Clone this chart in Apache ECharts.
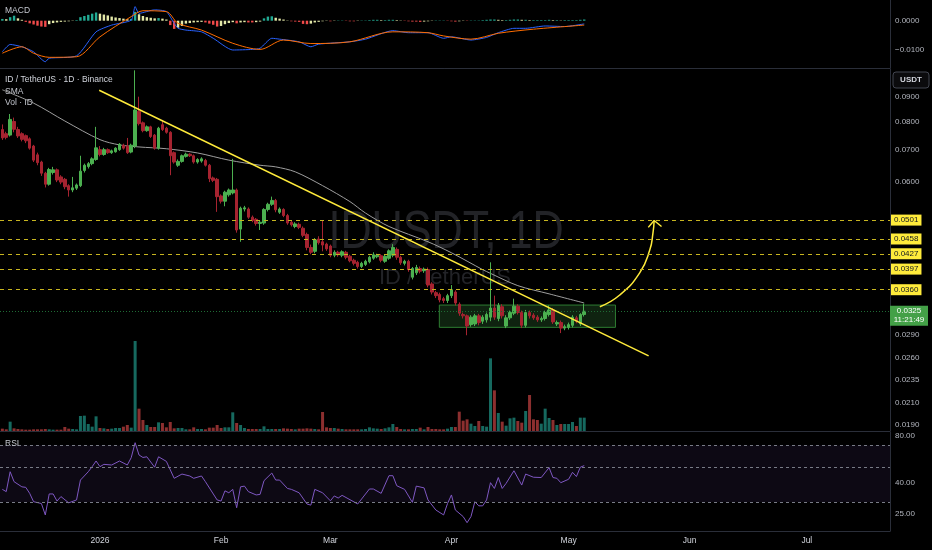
<!DOCTYPE html>
<html><head><meta charset="utf-8">
<script src="https://cdn.jsdelivr.net/npm/echarts@6/dist/echarts.min.js"></script>
<style>html,body{margin:0;padding:0;background:#000;}#c{width:932px;height:550px;}</style>
</head><body><div id="c"></div>
<script>
// ---------- data ----------
const firstDate = '2025-12-07';
// [open, close, low, high] per daily candle
const candles = [
[.0770,.0740,.0733,.0789],[.0755,.0742,.0735,.0762],[.0750,.0808,.0745,.0829],[.0800,.0771,.0760,.0815],
[.0770,.0747,.0740,.0780],[.0755,.0735,.0728,.0760],[.0748,.0730,.0722,.0752],[.0737,.0705,.0700,.0742],
[.0712,.0666,.0660,.0716],[.0683,.0658,.0650,.0690],[.0660,.0626,.0618,.0664],[.0626,.0594,.0585,.0630],
[.0594,.0637,.0590,.0642],[.0628,.0636,.0622,.0645],[.0636,.0606,.0600,.0640],[.0615,.0600,.0594,.0620],
[.0608,.0587,.0580,.0612],[.0590,.0578,.0560,.0594],[.0578,.0584,.0572,.0615],[.0583,.0592,.0578,.0596],
[.0590,.0632,.0586,.0680],[.0634,.0650,.0628,.0655],[.0646,.0655,.0640,.0660],[.0655,.0670,.0650,.0675],
[.0668,.0706,.0664,.0780],[.0700,.0684,.0678,.0712],[.0684,.0700,.0680,.0706],[.0700,.0690,.0686,.0704],
[.0690,.0696,.0686,.0700],[.0693,.0705,.0690,.0708],[.0700,.0718,.0696,.0722],[.0715,.0705,.0700,.0720],
[.0712,.0690,.0686,.0740],[.0692,.0715,.0688,.0720],[.0712,.0845,.0705,.1020],[.0840,.0792,.0785,.0900],
[.0795,.0766,.0760,.0800],[.0766,.0780,.0762,.0785],[.0780,.0745,.0740,.0784],[.0750,.0705,.0700,.0754],
[.0705,.0775,.0700,.0780],[.0788,.0770,.0765,.0806],[.0775,.0760,.0755,.0780],[.0760,.0680,.0620,.0764],
[.0690,.0660,.0655,.0694],[.0650,.0662,.0645,.0668],[.0662,.0680,.0658,.0684],[.0678,.0685,.0674,.0690],
[.0685,.0680,.0676,.0688],[.0680,.0660,.0655,.0684],[.0660,.0668,.0655,.0672],[.0663,.0670,.0658,.0675],
[.0665,.0650,.0646,.0670],[.0650,.0610,.0600,.0654],[.0612,.0605,.0600,.0616],[.0608,.0560,.0521,.0612],
[.0562,.0548,.0542,.0566],[.0548,.0572,.0535,.0576],[.0565,.0578,.0560,.0582],[.0570,.0578,.0566,.0670],
[.0578,.0478,.0472,.0582],[.0480,.0530,.0452,.0534],[.0528,.0531,.0522,.0536],[.0528,.0508,.0504,.0532],
[.0508,.0500,.0496,.0512],[.0503,.0493,.0488,.0506],[.0493,.0496,.0478,.0500],[.0494,.0527,.0490,.0530],
[.0527,.0540,.0522,.0544],[.0540,.0550,.0536,.0560],[.0550,.0526,.0520,.0554],[.0520,.0528,.0516,.0532],
[.0527,.0512,.0508,.0530],[.0512,.0494,.0490,.0516],[.0496,.0490,.0486,.0500],[.0486,.0492,.0482,.0496],
[.0491,.0484,.0480,.0495],[.0482,.0466,.0462,.0486],[.0468,.0440,.0434,.0472],[.0440,.0430,.0426,.0446],
[.0432,.0456,.0428,.0460],[.0458,.0450,.0446,.0464],[.0452,.0445,.0432,.0501],[.0447,.0437,.0433,.0450],
[.0443,.0424,.0420,.0446],[.0424,.0430,.0420,.0434],[.0430,.0425,.0421,.0433],[.0424,.0431,.0420,.0434],
[.0430,.0420,.0416,.0433],[.0422,.0413,.0410,.0425],[.0414,.0408,.0404,.0417],[.0410,.0402,.0398,.0413],
[.0402,.0408,.0399,.0411],[.0406,.0412,.0403,.0415],[.0411,.0420,.0408,.0423],[.0418,.0425,.0415,.0430],
[.0421,.0424,.0418,.0427],[.0423,.0414,.0410,.0426],[.0412,.0422,.0409,.0425],[.0418,.0433,.0415,.0436],
[.0424,.0440,.0420,.0447],[.0436,.0420,.0415,.0440],[.0420,.0409,.0405,.0423],[.0408,.0412,.0404,.0415],
[.0412,.0396,.0392,.0415],[.0382,.0398,.0378,.0401],[.0390,.0400,.0386,.0405],[.0398,.0393,.0389,.0402],
[.0394,.0397,.0390,.0400],[.0396,.0368,.0364,.0400],[.0370,.0356,.0352,.0373],[.0355,.0350,.0346,.0358],
[.0352,.0343,.0339,.0355],[.0345,.0342,.0338,.0348],[.0342,.0350,.0338,.0353],[.0350,.0360,.0346,.0368],
[.0356,.0338,.0334,.0359],[.0336,.0322,.0318,.0339],[.0320,.0318,.0314,.0323],[.0318,.0303,.0290,.0320],
[.0305,.0316,.0302,.0319],[.0306,.0318,.0303,.0321],[.0318,.0308,.0304,.0321],[.0310,.0316,.0306,.0319],
[.0312,.0320,.0308,.0323],[.0316,.0330,.0310,.0410],[.0330,.0316,.0312,.0350],[.0314,.0334,.0310,.0338],
[.0332,.0318,.0314,.0336],[.0303,.0315,.0300,.0319],[.0315,.0323,.0312,.0326],[.0322,.0333,.0319,.0345],
[.0333,.0323,.0320,.0336],[.0323,.0304,.0300,.0326],[.0304,.0323,.0301,.0327],[.0323,.0318,.0314,.0326],
[.0319,.0315,.0312,.0322],[.0316,.0312,.0309,.0319],[.0312,.0314,.0309,.0317],[.0314,.0323,.0311,.0326],
[.0320,.0327,.0317,.0334],[.0327,.0309,.0306,.0330],[.0306,.0308,.0303,.0311],[.0308,.0300,.0293,.0311],
[.0300,.0302,.0297,.0305],[.0301,.0305,.0298,.0308],[.0304,.0316,.0301,.0319],[.0315,.0310,.0307,.0318],
[.0306,.0320,.0303,.0322],[.0320,.0325,.0317,.0337]
];
const volumes = [
7,5,28,8,6,5,4,4,5,5, 5,6,5,4,4,4,12,7,6,5, 45,46,21,13,44,9,8,6,7,9, 9,13,18,10,270,67,33,18,12,12,
26,24,11,27,8,9,9,5,5,11, 6,6,5,10,10,18,9,11,11,56, 24,18,9,6,6,6,6,14,6,6, 6,6,8,7,6,5,7,7,8,7,
6,5,57,11,9,9,7,6,5,5, 5,5,5,6,11,8,7,6,8,11, 21,12,6,5,5,6,6,10,5,12, 6,6,5,5,7,12,12,58,31,35,
22,15,30,15,13,218,122,54,28,16, 38,40,30,25,60,108,35,33,22,67, 39,33,18,21,21,21,27,15,40,40
];
const macdHist = [
.0006,.0005,.0012,.0017,.0008,.0003,-.0004,-.0009,-.0013,-.0017, -.0020,-.0021,-.0012,-.0008,-.0006,-.0004,-.0003,-.0002,-.0001,.0002,
.0012,.0016,.0020,.0024,.0028,.0024,.0021,.0018,.0014,.0011, .0009,.0007,.0005,.0006,.0030,.0022,.0016,.0012,.0010,.0008,
.0009,.0007,.0004,-.0015,-.0028,-.0024,-.0018,-.0010,-.0008,-.0006, -.0005,-.0004,-.0006,-.0010,-.0014,-.0020,-.0018,-.0012,-.0008,-.0005,
-.0009,-.0006,-.0005,-.0006,-.0006,-.0005,-.0003,.0008,.0014,.0015, .0010,.0007,.0004,.0001,-.0002,-.0003,-.0004,-.0011,-.0012,-.0010,
-.0006,-.0004,-.0002,-.0001,-.0002,-.0001,.0001,.0001,-.0001,-.0002, -.0002,-.0001,.0001,.0001,.0002,.0003,.0003,.0002,.0002,.0003,
.0003,.0002,.0001,-.0001,-.0002,-.0003,-.0003,-.0004,-.0003,-.0002, -.0001,.0001,.0001,.0001,-.0001,-.0002,-.0003,-.0002,-.0001,-.0001,
.0001,.0001,.0001,.0002,.0003,.0004,.0004,.0003,.0002,.0002, .0003,.0004,.0004,.0003,.0003,.0002,.0002,.0002,.0002,.0002,
.0003,.0002,.0002,.0001,.0002,.0002,.0002,.0002,.0003,.0004
];
// [day offset from 2026-01-01, value]
const macdLine = [[-25,-.0106],[-23,-.0081],[-20,-.0089],[-17,-.0106],[-14,-.0140],[-13,-.0128],[-6,-.0120],[-1,-.0038],
[3,-.0015],[8,.0002],[9,.0048],[10,.0025],[14,.0037],[17,.0031],[19,-.0009],[20,-.0026],[22,-.0032],[26,-.0038],[29,-.0060],
[34,-.0100],[39,-.0098],[41,-.0094],[44,-.0060],[46,-.0063],[51,-.0072],[54,-.0089],[56,-.0080],[64,-.0072],[68,-.0063],
[75,-.0034],[79,-.0041],[84,-.0041],[88,-.0060],[90,-.0055],[95,-.0066],[99,-.0057],[102,-.0041],[106,-.0026],[109,-.0026],
[114,-.0018],[119,-.0020],[124,-.0011]];
const signalLine = [[-25,-.0111],[-20,-.0089],[-17,-.0111],[-13,-.0125],[-6,-.0123],[0,-.0055],[8,.0014],[11,.0034],[17,.0031],
[20,-.0009],[26,-.0032],[34,-.0077],[41,-.0098],[47,-.0066],[54,-.0078],[64,-.0072],[75,-.0038],[84,-.0041],[88,-.0052],
[95,-.0063],[102,-.0043],[111,-.0029],[124,-.0015]];
const smaLine = [[-25,.0930],[-17,.0873],[-9,.0802],[0,.0734],[5,.0716],[10,.0709],[17,.0703],[25,.0689],[33,.0666],[41,.0650],
[45,.0645],[50,.0630],[57,.0590],[64,.0547],[68,.0518],[74,.0486],[84,.0452],[90,.0429],[98,.0396],[100,.0389],[107,.0367],
[115,.0353],[124,.0338]];
const rsiLine = [[-25,36.2],[-24,35.0],[-23,47.1],[-22,40.6],[-20,37.6],[-19,37.3],[-18,34.1],[-17,30.1],[-15,29.3],[-14,24.7],
[-13,33.8],[-12,33.8],[-11,30.4],[-10,32.5],[-8,29.6],[-6,30.9],[-5,41.6],[-3,47.1],[-2,50.8],[-1,55.3],[0,50.8],[1,52.6],
[3,52.1],[5,55.3],[7,52.1],[8,58.1],[9,72.7],[10,60.5],[11,58.3],[12,58.9],[14,50.4],[15,58.9],[17,55.0],[19,42.7],[21,45.5],
[23,44.2],[24,42.7],[26,44.2],[27,40.6],[30,30.9],[31,30.4],[32,35.4],[33,34.4],[34,36.2],[35,27.5],[36,37.6],[37,38.0],
[38,35.0],[40,33.3],[41,33.6],[42,41.2],[44,46.2],[45,41.6],[46,41.6],[48,36.7],[49,36.2],[51,34.4],[53,29.1],[54,28.6],
[55,36.2],[57,34.4],[59,30.5],[60,32.8],[61,31.8],[62,33.1],[66,29.1],[69,36.4],[70,36.4],[72,34.1],[74,44.4],[75,44.4],
[76,38.2],[78,36.2],[80,29.8],[81,38.0],[83,37.0],[84,30.9],[86,26.6],[88,24.7],[89,29.3],[90,33.3],[91,26.6],[93,24.1],
[94,22.0],[95,24.1],[96,30.1],[97,28.3],[98,28.3],[99,30.9],[100,40.0],[101,36.7],[102,43.2],[103,36.7],[104,39.6],[106,47.8],
[108,38.6],[109,45.5],[111,43.4],[113,43.2],[115,50.1],[116,43.2],[117,42.7],[118,40.0],[120,42.1],[121,46.7],[122,43.8],
[123,50.4],[124,51.6]];
const levels = [0.0501, 0.0458, 0.0427, 0.0397, 0.0360];
const lastPrice = 0.0325;
const countdown = '11:21:49';
const trendLine = [[-0.2, 0.0928], [140.5, 0.0263]];
const rangeBox = [[86.9, 0.03347], [132.0, 0.03011]];
const arrowCurve = [[128.0,0.0332],[133.1,0.0351],[138.2,0.0390],[140.8,0.0435],[141.6,0.0471],[141.9,0.0499]];
const arrowHead = [[140.4,0.0484],[141.9,0.0500],[143.8,0.0486]];
const priceTicks = [0.09, 0.08, 0.07, 0.06, 0.029, 0.026, 0.0235, 0.021, 0.019];
const macdTicks = [0, -0.01];
const rsiTicks = [80, 40, 25];
const rsiBands = [70, 50, 30];
const monthTicks = [['2026-01-01','2026'],['2026-02-01','Feb'],['2026-03-01','Mar'],['2026-04-01','Apr'],
  ['2026-05-01','May'],['2026-06-01','Jun'],['2026-07-01','Jul']];

// ---------- chart ----------
const DAY = 864e5, ORIGIN = Date.parse('2026-01-01');
const dayOf = s => (Date.parse(s) - ORIGIN) / DAY;
const x0 = dayOf(firstDate);
const XMIN = -25.6, XMAX = 202.3;
const FONT = '"Liberation Sans", Arial, sans-serif';
const AX = '#2a2e39', TXT = '#b2b5be';
const UP = '#4cb050', DN = '#a62330';

const candleData = candles.map((c, i) => [x0 + i, c[0], c[1], c[2], c[3]]);
const volData = volumes.map((v, i) => ({ value: [x0 + i, v],
  itemStyle: { color: candles[i][1] >= candles[i][0] ? '#16695f' : '#8c2f2f' } }));
const histData = macdHist.map((h, i) => {
  const prev = i ? macdHist[i - 1] : 0;
  let col;
  if (h >= 0) col = h >= prev ? '#22ab94' : '#e3e8a8';
  else col = h <= prev ? '#f04a4a' : '#e3e8a8';
  return { value: [x0 + i, h], itemStyle: { color: col } };
});

function xAxis(i, labels) {
  return {
    type: 'value', gridIndex: i, min: XMIN, max: XMAX,
    splitLine: { show: false }, axisTick: { show: false },
    axisLine: { show: i !== 2, onZero: false, lineStyle: { color: AX } },
    axisLabel: labels ? {
      customValues: monthTicks.map(m => dayOf(m[0])),
      formatter: v => { const m = monthTicks.find(t => Math.abs(dayOf(t[0]) - v) < 0.5); return m ? m[1] : ''; },
      color: '#d1d4dc', fontSize: 8.5, fontFamily: FONT, margin: 5
    } : { show: false }
  };
}
function yAxis(i, extra) {
  return Object.assign({
    gridIndex: i, position: 'right', splitLine: { show: false }, axisTick: { show: false },
    axisLine: { show: true, onZero: false, lineStyle: { color: AX } }
  }, extra);
}
const lab = (vals, fmt) => ({ customValues: vals, formatter: fmt, color: TXT, fontSize: 8, fontFamily: FONT, margin: 5 });

const levelLines = levels.map(v => [
  { coord: [XMIN, v], lineStyle: { color: '#c7b520', type: [4, 4], width: 1 },
    label: { show: true, position: 'end', distance: 1, formatter: v.toFixed(4),
      backgroundColor: '#ffeb3b', color: '#131722', fontSize: 8, lineHeight: 9, padding: [1, 3, 1, 3], fontFamily: FONT } },
  { coord: [XMAX, v] }
]);

const option = {
  backgroundColor: '#000',
  animation: false,
  grid: [
    { left: 0, right: 42, top: 0, height: 68 },
    { left: 0, right: 42, top: 69, height: 362 },
    { left: 0, right: 42, top: 341, height: 90 },
    { left: 0, right: 42, top: 432, height: 99 }
  ],
  xAxis: [xAxis(0, false), xAxis(1, false), xAxis(2, false), xAxis(3, true)],
  yAxis: [
    yAxis(0, { type: 'value', min: -0.01614, max: 0.00706,
      axisLabel: lab(macdTicks, v => (v < 0 ? '\u2212' : '') + Math.abs(v).toFixed(4)) }),
    yAxis(1, { type: 'log', logBase: 10, min: 0.018407, max: 0.10265,
      axisLabel: lab(priceTicks, v => v.toFixed(4)) }),
    yAxis(2, { type: 'value', min: 0, max: 270, show: false, axisLine: { show: false, onZero: false } }),
    yAxis(3, { type: 'log', logBase: 10, min: 19.43, max: 85.3,
      axisLabel: lab(rsiTicks, v => v.toFixed(2)) })
  ],
  graphic: [
    { type: 'text', x: 446, y: 233, scaleX: 0.9, scaleY: 1.12, z: 0, silent: true,
      style: { text: 'IDUSDT, 1D', fill: '#222327', font: '48px ' + FONT, align: 'center', verticalAlign: 'middle' } },
    { type: 'text', x: 445, y: 278, z: 0, silent: true,
      style: { text: 'ID / TetherUS', fill: '#222327', font: '22px ' + FONT, align: 'center', verticalAlign: 'middle' } },
    { type: 'text', x: 5, y: 11, style: { text: 'MACD', fill: '#c3c6ce', font: '8.5px ' + FONT, verticalAlign: 'middle' } },
    { type: 'text', x: 5, y: 80, style: { text: 'ID / TetherUS \u00b7 1D \u00b7 Binance', fill: '#d1d4dc', font: '8.5px ' + FONT, verticalAlign: 'middle' } },
    { type: 'text', x: 5, y: 91.5, style: { text: 'SMA', fill: '#c3c6ce', font: '8.5px ' + FONT, verticalAlign: 'middle' } },
    { type: 'text', x: 5, y: 102.5, style: { text: 'Vol \u00b7 ID', fill: '#c3c6ce', font: '8.5px ' + FONT, verticalAlign: 'middle' } },
    { type: 'text', x: 5, y: 443.5, z: 10, style: { text: 'RSI', fill: '#c3c6ce', font: '8.5px ' + FONT, verticalAlign: 'middle' } },
    { type: 'rect', shape: { x: 893, y: 72, width: 36, height: 16, r: 3 }, style: { fill: '#0b0b0d', stroke: '#434651', lineWidth: 1 } },
    { type: 'text', x: 911, y: 80, style: { text: 'USDT', fill: '#d1d4dc', font: 'bold 8px ' + FONT, align: 'center', verticalAlign: 'middle' } }
  ],
  series: [
    { type: 'bar', name: 'hist', xAxisIndex: 0, yAxisIndex: 0, barWidth: 2.4, data: histData, silent: true },
    { type: 'line', name: 'MACD', xAxisIndex: 0, yAxisIndex: 0, data: macdLine, symbol: 'none', smooth: 0.2,
      lineStyle: { color: '#2962ff', width: 1 }, silent: true },
    { type: 'line', name: 'Signal', xAxisIndex: 0, yAxisIndex: 0, data: signalLine, symbol: 'none', smooth: 0.3,
      lineStyle: { color: '#ff6d00', width: 1 }, silent: true },
    { type: 'bar', name: 'Vol', xAxisIndex: 2, yAxisIndex: 2, barWidth: 3, data: volData, silent: true },
    {
      type: 'candlestick', name: 'ID/USDT', xAxisIndex: 1, yAxisIndex: 1, barWidth: 3, silent: true,
      encode: { x: 0, y: [1, 2, 3, 4] },
      data: candleData,
      itemStyle: { color: UP, color0: DN, borderColor: UP, borderColor0: DN, borderWidth: 1 },
      markArea: {
        silent: true,
        itemStyle: { color: 'rgba(76,175,80,0.2)', borderColor: '#2e7d32', borderWidth: 1 },
        data: [[{ coord: rangeBox[0] }, { coord: rangeBox[1] }]]
      },
      markLine: {
        silent: true, symbol: ['none', 'none'], animation: false,
        data: levelLines.concat([
          [{ coord: [XMIN, lastPrice], lineStyle: { color: '#1f6b35', type: [1, 2], width: 1 }, label: { show: false } },
           { coord: [XMAX, lastPrice] }],
          [{ coord: trendLine[0], lineStyle: { color: '#ffeb3b', width: 1.5, type: 'solid' }, label: { show: false } },
           { coord: trendLine[1] }]
        ])
      },
      markPoint: {
        silent: true,
        data: [{ coord: [XMAX, lastPrice], symbol: 'rect', symbolSize: [38, 20], symbolOffset: [19, 4.5],
          itemStyle: { color: '#43a047' },
          label: { show: true, position: 'inside', formatter: lastPrice.toFixed(4) + '\n' + countdown,
            color: '#fff', fontSize: 8, lineHeight: 9, fontFamily: FONT } }]
      }
    },
    { type: 'line', name: 'SMA', xAxisIndex: 1, yAxisIndex: 1, data: smaLine, symbol: 'none', smooth: 0.3,
      lineStyle: { color: '#9e9e9e', width: 1 }, silent: true, z: 1 },
    { type: 'line', name: 'arrow', xAxisIndex: 1, yAxisIndex: 1, data: arrowCurve, symbol: 'none', smooth: 0.5,
      lineStyle: { color: '#ffeb3b', width: 1.5 }, silent: true },
    { type: 'line', name: 'arrowHead', xAxisIndex: 1, yAxisIndex: 1, data: arrowHead, symbol: 'none',
      lineStyle: { color: '#ffeb3b', width: 1.5 }, silent: true },
    {
      type: 'line', name: 'RSI', xAxisIndex: 3, yAxisIndex: 3, data: rsiLine, symbol: 'none',
      lineStyle: { color: '#7e57c2', width: 1 }, silent: true,
      markArea: { silent: true, itemStyle: { color: 'rgba(126,87,194,0.1)' },
        data: [[{ yAxis: rsiBands[0] }, { yAxis: rsiBands[2] }]] },
      markLine: { silent: true, symbol: ['none', 'none'], label: { show: false },
        lineStyle: { color: '#787b86', type: [3, 3], width: 1 },
        data: rsiBands.map(v => ({ yAxis: v })) }
    }
  ]
};
const chart = echarts.init(document.getElementById('c'), null, { renderer: 'canvas' });
chart.setOption(option);
</script>
</body></html>
